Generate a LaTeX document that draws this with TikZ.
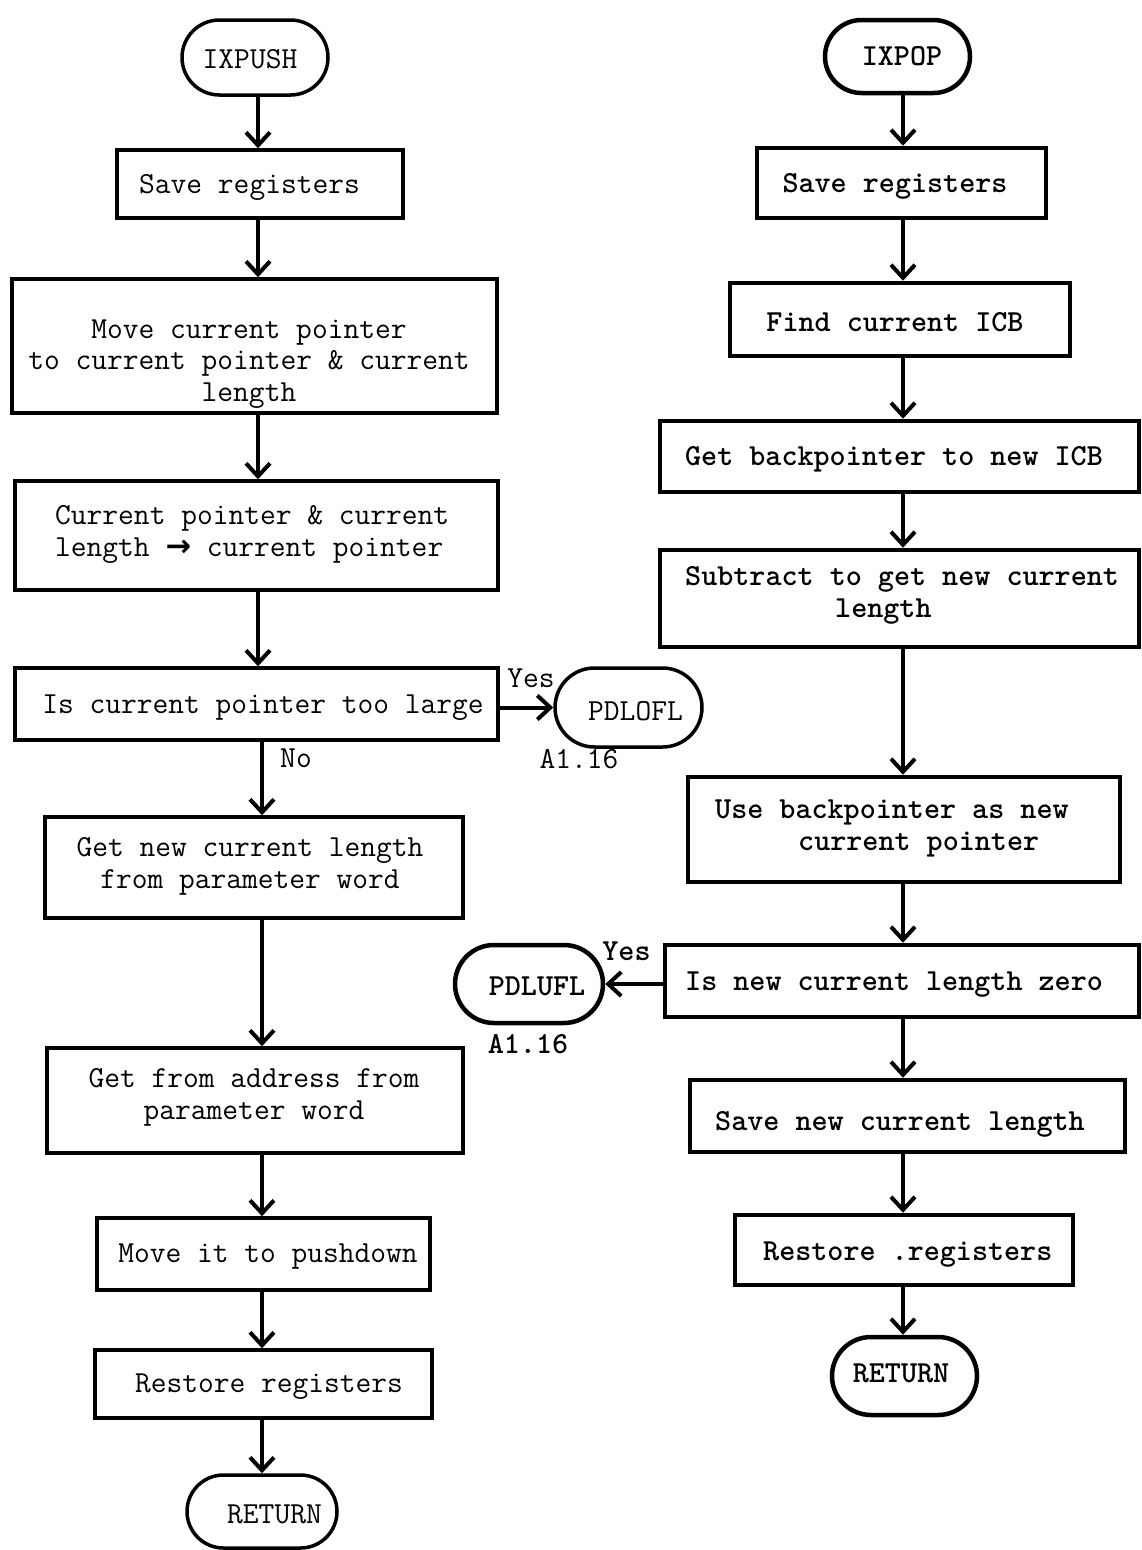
\documentclass[tikz,border=0pt]{standalone}
\usepackage{fontspec}
\usetikzlibrary{arrows.meta,shapes.misc}
\newfontfamily\arrowfont{DejaVu Sans}
\begin{document}
\begin{tikzpicture}[x=1pt,y=-1pt,
  procbox/.style={draw, line width=3.5pt, inner sep=0pt},
  termbox/.style={draw, rounded rectangle, line width=3.5pt, inner sep=0pt},
  heavy/.style={line width=4.5pt},
  lefttext/.style={inner sep=0pt, font=\fontsize{30.6}{31.5}\selectfont\ttfamily},
  righttext/.style={inner sep=0pt, font=\fontsize{30.6}{32}\selectfont\ttfamily\bfseries},
  flow/.style={line width=4pt, -{Straight Barb[length=13pt,width=24pt,line width=4pt]}},
]
\useasboundingbox (0,0) rectangle (1141,1550);

% column guides for the vertical connectors
\coordinate (xa) at (258,0);
\coordinate (xb) at (262,0);
\coordinate (xr) at (903,0);

% ---------------- IXPUSH ----------------
% (multi-line labels are anchored at the baseline of their last line)
\node[termbox, minimum width=146pt, minimum height=75pt] (t1) at (255,57.5) {};
\node[lefttext, anchor=base] (t1t) at (250,68) {IXPUSH};

\node[procbox, minimum width=286pt, minimum height=68pt] (b1) at (260,184) {};
\node[lefttext, anchor=base] (b1t) at (249.5,193) {Save registers};

\node[procbox, minimum width=485pt, minimum height=134pt] (b2) at (254.5,346) {};
\node[lefttext, anchor=base, align=center] (b2t) at (249,401)
  {Move current pointer\\to current pointer \& current\\length};

\node[procbox, minimum width=483pt, minimum height=109pt] (b3) at (256.5,535.5) {};
\node[lefttext, anchor=base west, align=left] (b3t) at (55,556)
  {Current pointer \& current\\length {\arrowfont\bfseries →} current pointer};

\node[procbox, minimum width=483pt, minimum height=72pt] (b4) at (256.5,704) {};
\node[lefttext, anchor=base] (b4t) at (263,713) {Is current pointer too large};

\node[termbox, minimum width=147pt, minimum height=79pt] (pdlofl) at (628.5,707.5) {};
\node[lefttext, anchor=base] (pdloflt) at (635.5,720) {PDLOFL};
\node[lefttext, anchor=base] (yes1) at (531,687) {Yes};
\node[lefttext, anchor=base] (ref1) at (579,768) {A1.16};
\node[lefttext, anchor=base] (no1) at (296,767) {No};

\node[procbox, minimum width=418pt, minimum height=101pt] (b5) at (254,867.5) {};
\node[lefttext, anchor=base, align=center] (b5t) at (250,888)
  {Get new current length\\from parameter word};

\node[procbox, minimum width=416pt, minimum height=105pt] (b6) at (255,1100.5) {};
\node[lefttext, anchor=base, align=center] (b6t) at (254,1119)
  {Get from address from\\parameter word};

\node[procbox, minimum width=333pt, minimum height=72pt] (b7) at (263.5,1254) {};
\node[lefttext, anchor=base] (b7t) at (268,1262) {Move it to pushdown};

\node[procbox, minimum width=337pt, minimum height=68pt] (b8) at (263.5,1384) {};
\node[lefttext, anchor=base] (b8t) at (269,1392) {Restore registers};

\node[termbox, minimum width=150pt, minimum height=73pt] (t2) at (262,1511.5) {};
\node[lefttext, anchor=base] (t2t) at (274.5,1523) {RETURN};

\draw[flow] (t1.south -| xa) -- (b1.north -| xa);
\draw[flow] (b1.south -| xa) -- (b2.north -| xa);
\draw[flow] (b2.south -| xa) -- (b3.north -| xa);
\draw[flow] (b3.south -| xa) -- (b4.north -| xa);
\draw[flow] (b4.south -| xb) -- (b5.north -| xb);
\draw[flow] (b5.south -| xb) -- (b6.north -| xb);
\draw[flow] (b6.south -| xb) -- (b7.north -| xb);
\draw[flow] (b7.south -| xb) -- (b8.north -| xb);
\draw[flow] (b8.south -| xb) -- (t2.north -| xb);
\draw[flow] (b4.east |- pdlofl.west) -- (pdlofl.west);

% ---------------- IXPOP ----------------
\node[termbox, heavy, minimum width=145pt, minimum height=73pt] (t3) at (897.5,56.5) {};
\node[righttext, anchor=base] (t3t) at (902,65) {IXPOP};

\node[procbox, heavy, minimum width=289pt, minimum height=70pt] (r1) at (901.5,183) {};
\node[righttext, anchor=base] (r1t) at (895,192) {Save registers};

\node[procbox, heavy, minimum width=340pt, minimum height=73pt] (r2) at (900,319.5) {};
\node[righttext, anchor=base] (r2t) at (895,331) {Find current ICB};

\node[procbox, heavy, minimum width=479pt, minimum height=71pt] (r3) at (899.5,456.5) {};
\node[righttext, anchor=base] (r3t) at (894,465) {Get backpointer to new ICB};

\node[procbox, heavy, minimum width=479pt, minimum height=97pt] (r4) at (899.5,598.5) {};
\node[righttext, anchor=base west, align=left] (r4t) at (685,617)
  {Subtract to get new current\\\hspace*{150pt}length};

\node[procbox, heavy, minimum width=432pt, minimum height=105pt] (r5) at (904,829.5) {};
\node[righttext, anchor=base west, align=left] (r5t) at (715,850)
  {Use backpointer as new\\\hspace*{83pt}current pointer};

\node[procbox, heavy, minimum width=474pt, minimum height=72pt] (r6) at (902,981) {};
\node[righttext, anchor=base west] (r6t) at (685,990) {Is new current length zero};

\node[termbox, heavy, minimum width=148pt, minimum height=78pt] (pdlufl) at (529,984) {};
\node[righttext, anchor=base] (pdluflt) at (537,995) {PDLUFL};
\node[righttext, anchor=base] (yes2) at (626.5,960) {Yes};
\node[righttext, anchor=base] (ref2) at (528,1053) {A1.16};

\node[procbox, heavy, minimum width=435pt, minimum height=72pt] (r7) at (907.5,1116) {};
\node[righttext, anchor=base west] (r7t) at (715,1130) {Save new current length};

\node[procbox, heavy, minimum width=338pt, minimum height=70pt] (r8) at (904,1250) {};
\node[righttext, anchor=base west] (r8t) at (763,1260) {Restore .registers};

\node[termbox, heavy, minimum width=145pt, minimum height=78pt] (t4) at (904.5,1376) {};
\node[righttext, anchor=base] (t4t) at (901,1382) {RETURN};

\draw[flow] (t3.south -| xr) -- (r1.north -| xr);
\draw[flow] (r1.south -| xr) -- (r2.north -| xr);
\draw[flow] (r2.south -| xr) -- (r3.north -| xr);
\draw[flow] (r3.south -| xr) -- (r4.north -| xr);
\draw[flow] (r4.south -| xr) -- (r5.north -| xr);
\draw[flow] (r5.south -| xr) -- (r6.north -| xr);
\draw[flow] (r6.south -| xr) -- (r7.north -| xr);
\draw[flow] (r7.south -| xr) -- (r8.north -| xr);
\draw[flow] (r8.south -| xr) -- (t4.north -| xr);
\draw[flow] (r6.west |- pdlufl.east) -- (pdlufl.east);
\end{tikzpicture}
\end{document}
